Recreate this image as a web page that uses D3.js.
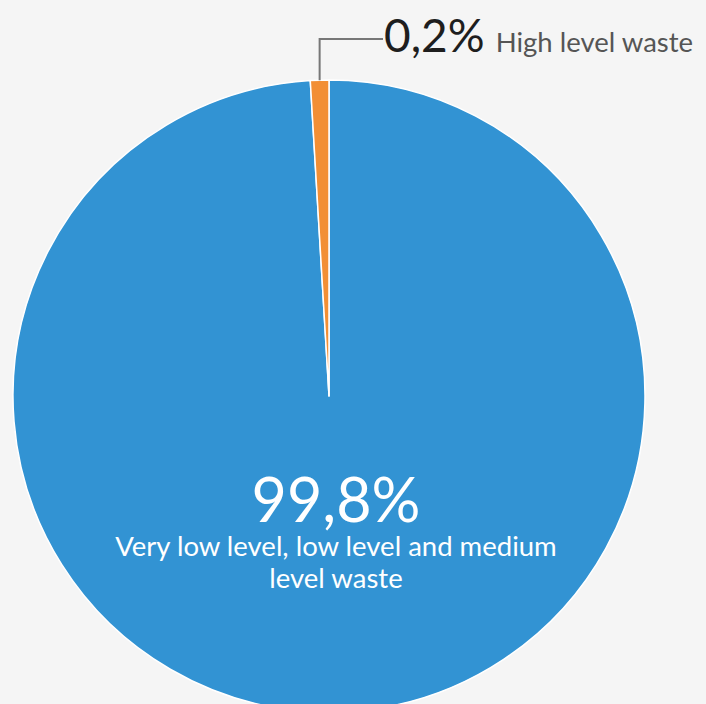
<!DOCTYPE html>
<html>
<head>
<meta charset="utf-8">
<script src="https://cdn.jsdelivr.net/npm/d3@7"></script>
<style>
  html, body { margin: 0; padding: 0; background: #f5f5f5; }
  svg { display: block; font-family: Lato, "Open Sans", sans-serif; }
</style>
</head>
<body>
<svg id="chart" width="706" height="704"></svg>
<script>
// Data
const categories = ["Very low level, low level and medium level waste", "High level waste"];
const values = [99.8, 0.2];
const valueLabels = ["99,8%", "0,2%"];
const colors = ["#3293d3", "#f28f35"];

const svg = d3.select("#chart");
const W = 706, H = 704;
svg.append("rect").attr("width", W).attr("height", H).attr("fill", "#f5f5f5");

const cx = 329, cy = 396, R = 316;
const minAngle = 3.4 * Math.PI / 180; // minimum visible slice angle

const pie = d3.pie().sort(null).value(d => d);
let arcs = pie(values);
// enforce minimum visible angle for tiny slices (taken from the preceding large slice)
const small = arcs[1];
if (small.endAngle - small.startAngle < minAngle) {
  small.startAngle = small.endAngle - minAngle;
  arcs[0].endAngle = small.startAngle;
}

const arc = d3.arc().innerRadius(0).outerRadius(R);
const g = svg.append("g").attr("transform", `translate(${cx},${cy})`);
g.selectAll("path").data(arcs).join("path")
  .attr("d", arc)
  .attr("fill", (d, i) => colors[i])
  .attr("stroke", "#ffffff")
  .attr("stroke-width", 1.5)
  .attr("stroke-linejoin", "round");

// Leader for small slice
const midA = (small.startAngle + small.endAngle) / 2;
const p0 = [cx + Math.sin(midA) * R, cy - Math.cos(midA) * R];
const elbowY = 39, endX = 383;
svg.append("polyline")
  .attr("points", `${p0[0]},${p0[1]} ${p0[0]},${elbowY} ${endX},${elbowY}`)
  .attr("fill", "none")
  .attr("stroke", "#777777")
  .attr("stroke-width", 2);

const lbl = svg.append("text").attr("x", endX + 1).attr("y", 52);
lbl.append("tspan").text(valueLabels[1]).attr("font-size", 46).attr("fill", "#1e1e1e");
lbl.append("tspan").text(categories[1]).attr("dx", 11).attr("font-size", 27.5).attr("fill", "#555555");

// Big slice label
const tx = 336;
svg.append("text").attr("x", tx).attr("y", 522).attr("text-anchor", "middle")
  .attr("font-size", 61).attr("fill", "#ffffff").text(valueLabels[0]);
const lines = ["Very low level, low level and medium", "level waste"];
svg.append("g").selectAll("text").data(lines).join("text")
  .attr("x", tx).attr("y", (d, i) => 556 + i * 32)
  .attr("text-anchor", "middle").attr("font-size", 27.5).attr("fill", "#ffffff")
  .text(d => d);
</script>
</body>
</html>
